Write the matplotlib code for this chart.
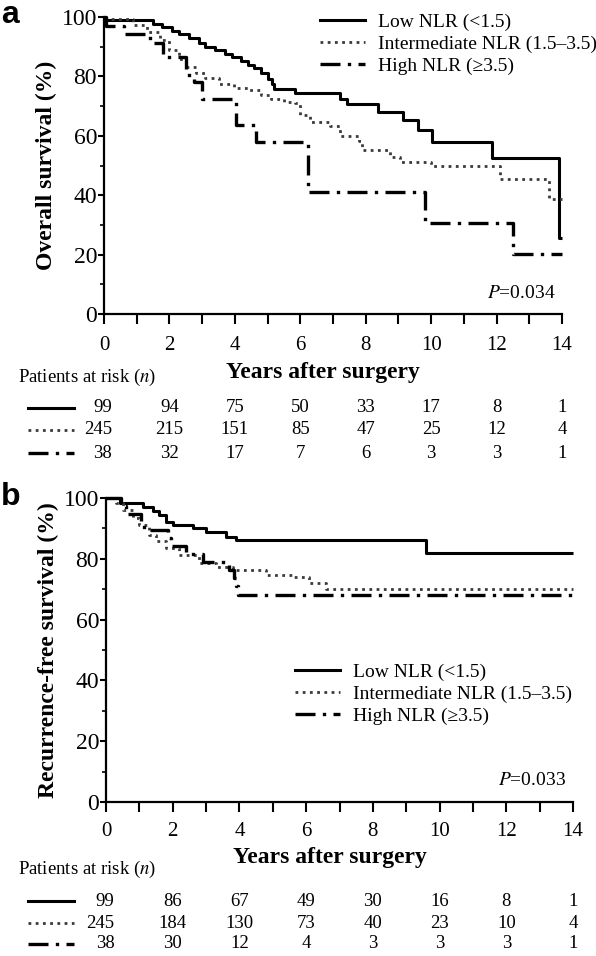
import matplotlib as mpl
import matplotlib.pyplot as plt
import matplotlib.transforms as mtransforms
from matplotlib.lines import Line2D

plt.rcParams["font.family"] = ["Liberation Serif", "DejaVu Serif"]
plt.rcParams["mathtext.fontset"] = "stix"

# %% Data

years_ticks = [0, 2, 4, 6, 8, 10, 12, 14]
labels = ["Low NLR (<1.5)", "Intermediate NLR (1.5–3.5)", "High NLR (≥3.5)"]

# overall survival (panel a), step curves
os_low_t = [0, 1.5, 1.78, 2.08, 2.3, 2.6, 2.9, 3.1, 3.4, 3.7, 3.9, 4.2, 4.4, 4.6,
            4.8, 5.0, 5.15, 5.2, 5.85, 7.2, 7.42, 8.39, 9.15, 9.6, 10.02, 11.85,
            13.9, 14.0]
os_low_s = [98.9, 97.6, 96.5, 95.4, 94.3, 92.8, 91.3, 90.0, 88.9, 87.7, 86.6, 85.2,
            83.8, 82.7, 81.2, 79.2, 77.5, 75.9, 74.4, 72.5, 70.6, 68.0, 65.2, 61.8,
            57.9, 52.4, 25.6, 25.6]
os_mid_t = [0, 0.9, 1.3, 1.7, 2.0, 2.3, 2.5, 2.8, 3.1, 3.5, 3.96, 4.4, 4.8, 5.1, 5.5,
            5.85, 6.0, 6.3, 6.9, 7.2, 7.8, 7.9, 8.75, 9.05, 10.0, 12.1, 13.6, 14.0]
os_mid_s = [99.2, 97.3, 95.0, 92.2, 88.9, 86.0, 83.2, 81.0, 79.3, 77.6, 76.2, 75.3,
            73.6, 72.5, 71.4, 70.9, 66.9, 64.6, 63.2, 60.1, 58.4, 55.1, 53.0, 51.1,
            49.8, 45.5, 38.8, 38.8]
os_high_t = [0, 0.05, 0.6, 1.4, 1.8, 2.5, 2.75, 3.0, 4.05, 4.65, 6.25, 9.8, 12.5, 14.0]
os_high_s = [100, 97.1, 94.2, 91.3, 86.4, 80.4, 78.2, 72.5, 63.5, 57.9, 41.0, 30.8,
             20.2, 20.2]

# recurrence-free survival (panel b)
rfs_low_t = [0, 0.42, 1.1, 1.4, 1.6, 1.8, 2.0, 2.6, 3.0, 3.6, 3.9, 9.6, 14.0]
rfs_low_s = [100, 98.2, 97.1, 95.8, 94.4, 92.2, 91.1, 90.0, 88.9, 87.3, 86.2, 81.8, 81.8]
rfs_mid_t = [0, 0.3, 0.52, 0.8, 1.0, 1.3, 1.5, 1.8, 2.2, 2.8, 3.3, 3.8, 4.8, 5.6, 6.1,
             6.6, 14.0]
rfs_mid_s = [100, 98.5, 96.0, 93.5, 91.0, 87.8, 86.0, 83.4, 81.2, 78.5, 77.4, 76.3,
             74.7, 74.1, 72.0, 70.2, 70.2]
rfs_high_t = [0, 0.45, 0.6, 1.05, 1.15, 1.85, 1.95, 2.4, 2.9, 3.7, 3.85, 3.9, 3.97, 14.0]
rfs_high_s = [100, 97.4, 94.7, 92.1, 89.5, 86.8, 84.2, 81.6, 78.9, 76.3, 73.7, 71.1,
              68.0, 68.0]

# patients at risk
os_risk_low = [99, 94, 75, 50, 33, 17, 8, 1]
os_risk_mid = [245, 215, 151, 85, 47, 25, 12, 4]
os_risk_high = [38, 32, 17, 7, 6, 3, 3, 1]
rfs_risk_low = [99, 86, 67, 49, 30, 16, 8, 1]
rfs_risk_mid = [245, 184, 130, 73, 40, 23, 10, 4]
rfs_risk_high = [38, 30, 12, 4, 3, 3, 3, 1]

# %% Styles

W, H = 596, 956
styles = [
    dict(color="black", linestyle="-", linewidth=2.2),
    dict(color="#3a3a3a", linestyle=(0, (1, 1.6)), linewidth=2.0),
    dict(color="black", linestyle=(0, (6, 2.2, 1, 2.2)), linewidth=2.4),
]


def fx(px):
    return px / W


def fy(px):
    return 1 - px / H


def km_panel(ax, curves, ylabel, pval, leg_xy, letter, letter_xy):
    for (t, s), st in zip(curves, styles):
        ax.step(t, s, where="post", clip_on=False, solid_capstyle="butt", **st)
    ax.set_xlim(0, 14)
    ax.set_ylim(0, 100)
    ax.set_xticks(years_ticks)
    ax.set_xticklabels([])
    ax.xaxis.set_minor_locator(mpl.ticker.MultipleLocator(1))
    ax.set_yticks([0, 20, 40, 60, 80, 100])
    ax.yaxis.set_minor_locator(mpl.ticker.MultipleLocator(10))
    ax.tick_params(axis="x", which="both", direction="out", length=7.5, width=1.5)
    ax.tick_params(axis="y", which="major", direction="out", length=4, width=1.5,
                   labelsize=17, pad=1)
    ax.tick_params(axis="y", which="minor", direction="out", length=3, width=1.2)
    for side in ["top", "right"]:
        ax.spines[side].set_visible(False)
    for side in ["left", "bottom"]:
        ax.spines[side].set_linewidth(1.6)
    ax.set_ylabel(ylabel, fontsize=17, fontweight="bold", labelpad=3)
    ax.text(0.985, 0.07, r"$\mathit{P}$=" + pval, transform=ax.transAxes,
            ha="right", va="center", fontsize=14)
    handles = [Line2D([], [], **st) for st in styles]
    ax.legend(handles, labels, loc="upper left", bbox_to_anchor=leg_xy,
              bbox_transform=fig.transFigure, frameon=False, fontsize=14,
              handlelength=2.3, handletextpad=0.7, labelspacing=0.22,
              borderpad=0, borderaxespad=0)
    fig.text(letter_xy[0], letter_xy[1], letter, family="Liberation Sans",
             fontweight="bold", fontsize=23, ha="left", va="top")


def risk_table(ax, rows, tick_y, xlabel_xy, title_y, row_ys):
    tr = mtransforms.blended_transform_factory(ax.transData, fig.transFigure)
    for x in years_ticks:
        ax.text(x, fy(tick_y), str(x), transform=tr, ha="center", va="center",
                fontsize=15)
    fig.text(fx(xlabel_xy[0]), fy(xlabel_xy[1]), "Years after surgery",
             ha="center", va="center", fontsize=17, fontweight="bold")
    fig.text(fx(18), fy(title_y), r"Patients at risk ($n$)", ha="left",
             va="center", fontsize=13.5)
    for vals, st, ry in zip(rows, styles, row_ys):
        fig.add_artist(Line2D([fx(28), fx(74)], [fy(ry), fy(ry)],
                              transform=fig.transFigure, **st))
        for i, (x, v) in enumerate(zip(years_ticks, vals)):
            if i == 0:
                ax.text(x + 0.25, fy(ry), str(v), transform=tr, ha="right",
                        va="center", fontsize=13.5)
            else:
                ax.text(x, fy(ry), str(v), transform=tr, ha="center",
                        va="center", fontsize=13.5)


# %% Figure

fig = plt.figure(figsize=(W / 100, H / 100), dpi=100)

ax_a = fig.add_axes([fx(104), fy(314), fx(562) - fx(104), (314 - 17) / H])
km_panel(
    ax_a,
    [(os_low_t, os_low_s), (os_mid_t, os_mid_s), (os_high_t, os_high_s)],
    "Overall survival (%)",
    "0.034",
    (fx(320), fy(13)),
    "a",
    (fx(1), fy(0)),
)
risk_table(
    ax_a,
    [os_risk_low, os_risk_mid, os_risk_high],
    tick_y=346,
    xlabel_xy=(323, 372),
    title_y=377,
    row_ys=[408, 430, 453],
)

ax_b = fig.add_axes([fx(106), fy(802), fx(573) - fx(106), (802 - 498) / H])
km_panel(
    ax_b,
    [(rfs_low_t, rfs_low_s), (rfs_mid_t, rfs_mid_s), (rfs_high_t, rfs_high_s)],
    "Recurrence-free survival (%)",
    "0.033",
    (fx(295), fy(663)),
    "b",
    (fx(1), fy(482)),
)
risk_table(
    ax_b,
    [rfs_risk_low, rfs_risk_mid, rfs_risk_high],
    tick_y=832,
    xlabel_xy=(330, 858),
    title_y=869,
    row_ys=[901, 923, 944],
)

fig.savefig("out.png", dpi=100)
